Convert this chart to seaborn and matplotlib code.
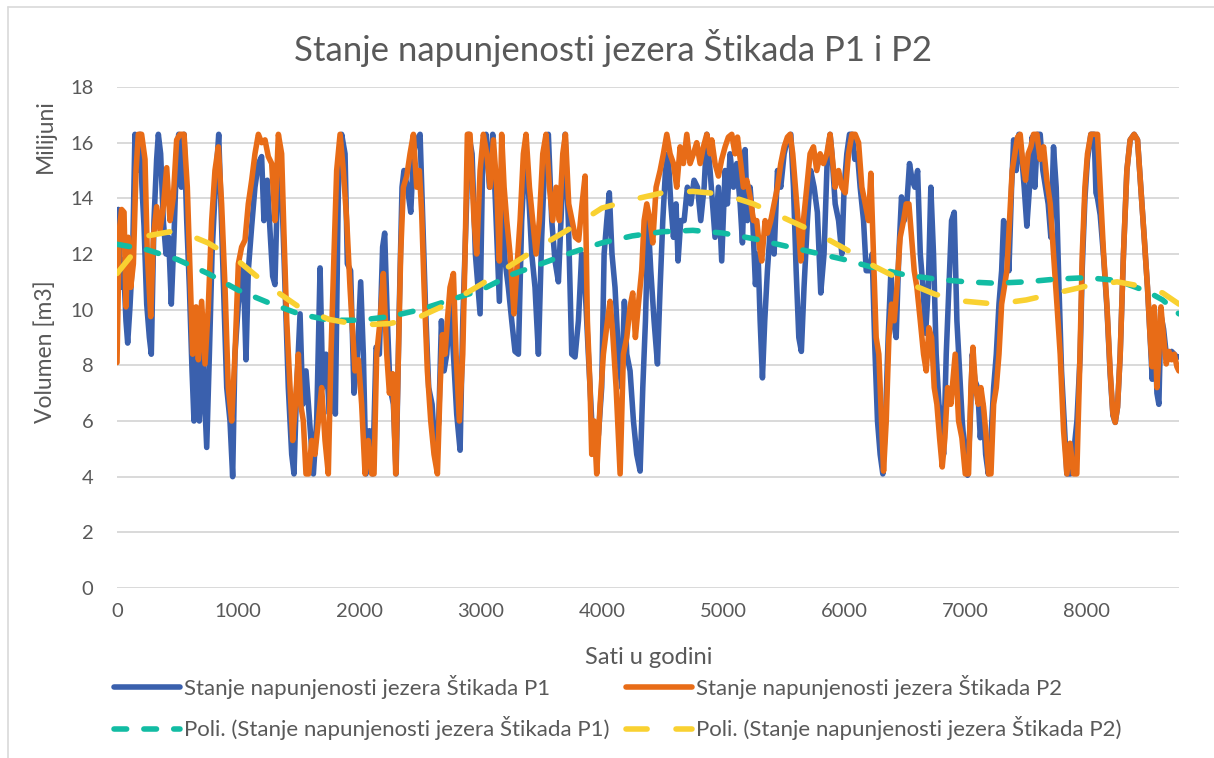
import matplotlib
matplotlib.use("Agg")
import matplotlib.pyplot as plt
import seaborn as sns
from matplotlib.lines import Line2D

# ---------------- data ----------------
h_p1 = [0, 11, 30, 52, 74, 88, 107, 129, 148, 168, 190, 206, 223, 245, 267, 283, 305, 327, 341, 360,
        382, 404, 426, 448, 470, 492, 509, 531, 553, 575, 597, 619, 635, 657, 679, 707, 740, 762, 784, 811,
        839, 861, 883, 905, 932, 954,
        973, 1001, 1042, 1064, 1083, 1111, 1138, 1166, 1193, 1212, 1240, 1262, 1284, 1303, 1331, 1358, 1386,
        1413, 1441, 1460, 1482, 1510, 1532, 1559, 1592, 1620, 1647, 1675, 1697, 1724, 1752, 1779, 1801, 1826,
        1853, 1881, 1900, 1927,
        1955, 1983, 2010, 2032, 2054, 2082, 2109, 2137, 2164, 2191, 2208, 2230, 2252, 2280, 2302, 2329, 2351,
        2367, 2395, 2423, 2445, 2472, 2500, 2522, 2544, 2571, 2599, 2626, 2654, 2676, 2698, 2720, 2747, 2775,
        2802, 2830, 2852, 2879, 2901, 2929, 2956,
        2967, 2995, 3017, 3044, 3072, 3099, 3127, 3154, 3176, 3201, 3228, 3256, 3283, 3311, 3338, 3366, 3393,
        3421, 3448, 3476, 3503, 3531, 3558, 3586, 3613, 3641, 3668, 3696, 3723, 3751, 3778, 3806, 3833, 3861,
        3888, 3916, 3943,
        3971, 3998, 4018, 4040, 4061, 4083, 4108, 4136, 4163, 4185, 4205, 4232, 4260, 4287, 4315, 4337, 4359,
        4381, 4403, 4430, 4458, 4480, 4502, 4524, 4546, 4568, 4590, 4611, 4628, 4650, 4678, 4705, 4733, 4760,
        4788, 4815, 4843, 4865, 4892,
        4933, 4961, 4988, 5016, 5035, 5057, 5085, 5112, 5140, 5159, 5181, 5200, 5222, 5244, 5266, 5288, 5305,
        5324, 5343, 5365, 5393, 5420, 5448, 5475, 5503, 5530, 5558, 5580, 5602, 5624, 5645, 5667, 5695, 5722,
        5750, 5777, 5805, 5832, 5860, 5882,
        5897, 5924, 5952, 5979, 5998, 6020, 6042, 6064, 6086, 6108, 6130, 6158, 6180, 6207, 6229, 6251, 6273,
        6295, 6317, 6339, 6361, 6383, 6405, 6427, 6449, 6471, 6493, 6515, 6537, 6559, 6581, 6604, 6626, 6648,
        6670, 6692, 6713, 6735, 6757, 6780, 6801, 6818, 6840, 6862, 6884,
        6906, 6928, 6950, 6972, 6994, 7016, 7038, 7055, 7077, 7099, 7121, 7143, 7165, 7187, 7209, 7231, 7253,
        7275, 7297, 7313, 7335, 7357, 7379, 7396, 7417, 7439, 7461, 7483, 7505, 7527, 7549, 7571, 7593, 7615,
        7637, 7659, 7681, 7703, 7725, 7747, 7770, 7791, 7813, 7835, 7863, 7890, 7918, 7945,
        7962, 7984, 8005, 8033, 8060, 8075, 8088, 8110, 8138, 8165, 8192, 8215, 8234, 8253, 8275, 8302, 8330,
        8357, 8390, 8418, 8445, 8473, 8500, 8522, 8539, 8556, 8578, 8594, 8611, 8633, 8655, 8677, 8699, 8721,
        8743, 8759]
v_p1 = [10.8, 13.6, 10.8, 11.8, 9.6, 8.8, 10.1, 12.0, 16.3, 15.0, 16.3, 14.4, 13.0, 10.2, 9.0, 8.4, 13.2, 15.4, 16.3, 15.6,
        13.2, 12.0, 12.6, 10.2, 12.6, 15.6, 16.3, 14.4, 16.3, 13.2, 10.8, 7.8, 6.0, 9.6, 6.0, 8.4, 5.05, 8.4, 12.0, 14.4,
        16.3, 13.2, 10.2, 7.2, 6.0, 4.0,
        8.4, 10.2, 11.5, 8.2, 11.4, 13.0, 14.4, 15.25, 15.5, 13.2, 14.65, 12.85, 11.2, 10.9, 15.6, 14.4, 10.8,
        7.2, 4.8, 4.1, 7.2, 9.85, 6.6, 7.8, 5.8, 4.1, 6.0, 11.5, 7.2, 8.4, 6.25, 9.6, 6.25, 14.4,
        16.3, 15.6, 11.65, 11.4,
        7.0, 8.4, 11.0, 8.4, 4.1, 5.65, 4.1, 8.65, 8.4, 12.25, 12.75, 9.6, 7.2, 6.6, 4.1, 10.2, 14.4,
        15.0, 14.4, 13.5, 15.6, 16.1, 16.3, 13.2, 10.2, 7.2, 6.6, 4.8, 6.0, 9.6, 7.8, 8.4, 10.3, 8.4,
        6.25, 4.95, 9.6, 13.2, 16.3, 15.6, 12.0,
        11.4, 9.85, 15.6, 16.3, 14.4, 16.3, 13.2, 10.3, 14.4, 11.75, 10.8, 9.6, 8.5, 8.4, 13.2, 15.6, 14.4,
        12.0, 10.8, 8.4, 12.6, 15.6, 16.3, 13.2, 11.75, 11.0, 13.8, 16.3, 13.2, 8.4, 8.3, 9.6, 12.0, 10.8,
        8.4, 6.0, 4.8,
        5.5, 7.2, 12.0, 13.2, 14.2, 12.0, 10.8, 8.4, 7.2, 10.3, 8.4, 7.8, 6.0, 4.8, 4.2, 7.2, 9.6,
        13.2, 11.4, 9.6, 8.05, 10.8, 13.2, 15.0, 15.6, 13.8, 12.6, 13.8, 11.75, 13.2, 13.2, 14.4, 13.8, 14.65,
        14.4, 13.2, 14.4, 16.3, 15.0,
        12.6, 14.4, 11.75, 15.0, 13.8, 15.6, 14.4, 15.25, 13.8, 12.4, 15.75, 13.2, 14.4, 13.2, 10.9, 12.0, 9.6,
        7.55, 9.6, 11.4, 13.2, 12.0, 15.0, 14.4, 15.6, 16.1, 16.3, 14.4, 11.4, 9.0, 8.5, 10.8, 13.2, 15.0,
        14.4, 13.5, 10.6, 12.0, 15.6, 16.3,
        15.6, 13.8, 13.2, 12.0, 14.4, 15.6, 16.3, 16.3, 15.4, 15.6, 14.4, 13.2, 11.4, 11.4, 12.0, 8.65, 6.0,
        4.8, 4.1, 6.0, 9.0, 11.3, 9.6, 9.0, 12.0, 14.05, 13.2, 13.8, 15.25, 14.65, 14.4, 15.0, 12.0, 10.8,
        9.15, 10.8, 14.4, 12.0, 8.4, 6.6, 6.0, 4.8, 8.4, 10.8, 13.2,
        13.5, 9.6, 7.8, 6.0, 4.8, 4.05, 6.0, 8.4, 7.45, 7.2, 5.4, 6.6, 4.8, 4.1, 5.4, 7.2, 8.4,
        10.2, 11.4, 13.2, 12.85, 11.4, 14.4, 16.1, 15.0, 16.3, 15.6, 14.4, 13.0, 14.4, 16.2, 14.4, 16.3, 16.3,
        15.0, 14.4, 13.8, 12.6, 15.85, 14.4, 10.8, 7.8, 6.0, 4.1, 4.1, 4.8, 6.0, 8.4,
        11.5, 14.0, 15.4, 16.3, 16.3, 14.2, 14.0, 13.4, 11.9, 10.1, 7.7, 6.2, 5.95, 6.5, 8.4, 12.0, 15.0,
        16.1, 16.3, 16.1, 14.4, 12.6, 10.8, 9.0, 7.5, 10.0, 7.0, 6.6, 9.8, 9.3, 8.4, 8.3, 8.5, 8.4,
        8.3, 8.3]

h_p2 = [0, 19, 38, 58, 74, 93, 113, 135, 157, 176, 203, 231, 250, 278, 300, 327, 355, 382, 410, 437,
        465, 492, 520, 553, 580, 602, 624, 652, 671, 698, 726, 753, 781, 808, 836, 863, 891, 918, 946,
        973, 1001, 1028, 1056, 1083, 1111, 1138, 1166, 1193, 1221, 1248, 1276, 1303, 1331, 1358, 1378, 1400,
        1427, 1449, 1471, 1496, 1515, 1537, 1559, 1581, 1606, 1633, 1661, 1688, 1716, 1743, 1765, 1790, 1812,
        1840, 1867, 1895, 1922,
        1963, 1991, 2018, 2046, 2073, 2101, 2120, 2142, 2170, 2197, 2225, 2247, 2274, 2299, 2321, 2340, 2362,
        2390, 2417, 2445, 2472, 2494, 2513, 2533, 2560, 2588, 2615, 2643, 2665, 2684, 2706, 2725, 2747, 2775,
        2797, 2824, 2852, 2871, 2890, 2912,
        2945, 2967, 2995, 3022, 3050, 3077, 3105, 3132, 3154, 3173, 3193, 3215, 3242, 3275, 3297, 3325, 3352,
        3374, 3402, 3429, 3457, 3484, 3512, 3539, 3567, 3594, 3622, 3649, 3677, 3699, 3726, 3754, 3781, 3808,
        3836, 3861, 3880, 3902,
        3916, 3935, 3957, 3985, 4012, 4040, 4067, 4089, 4117, 4150, 4177, 4205, 4232, 4254, 4276, 4301, 4328,
        4348, 4370, 4397, 4419, 4447, 4480, 4507, 4535, 4562, 4590, 4617, 4645, 4672, 4700, 4727, 4755, 4782,
        4810, 4837, 4865, 4892,
        4906, 4933, 4961, 4988, 5016, 5043, 5071, 5098, 5118, 5145, 5167, 5195, 5222, 5250, 5277, 5299, 5318,
        5346, 5365, 5393, 5420, 5448, 5475, 5503, 5530, 5552, 5574, 5596, 5618, 5640, 5662, 5690, 5717, 5745,
        5772, 5800, 5827, 5855, 5882,
        5924, 5952, 5979, 6007, 6034, 6062, 6089, 6117, 6144, 6172, 6199, 6218, 6240, 6262, 6284, 6306, 6323,
        6345, 6367, 6389, 6411, 6433, 6460, 6488, 6510, 6532, 6554, 6576, 6598, 6626, 6653, 6675, 6697, 6719,
        6741, 6763, 6785, 6807, 6829, 6851, 6878,
        6914, 6942, 6969, 6997, 7024, 7044, 7060, 7082, 7104, 7126, 7148, 7170, 7189, 7209, 7231, 7253, 7275,
        7297, 7319, 7340, 7362, 7384, 7406, 7428, 7450, 7472, 7494, 7516, 7538, 7560, 7588, 7615, 7643, 7670,
        7698, 7725, 7753,
        7780, 7808, 7835, 7862, 7890, 7917, 7940, 7962, 7984, 8005, 8033, 8060, 8088, 8110, 8138, 8165, 8192,
        8215, 8234, 8253, 8275, 8302, 8330, 8357, 8390, 8418, 8445, 8473, 8500, 8522, 8539, 8556, 8578, 8594,
        8611, 8633, 8655, 8677, 8699, 8721, 8743, 8759]
v_p2 = [8.1, 12.85, 13.6, 13.5, 10.1, 12.6, 10.8, 11.65, 15.0, 16.3, 16.3, 15.4, 12.0, 9.75, 12.6, 13.7, 12.85, 13.7, 15.1, 13.2,
        14.05, 16.1, 16.3, 16.3, 14.4, 11.4, 8.4, 10.1, 8.2, 10.3, 8.05, 10.1, 13.2, 15.0, 15.85, 13.8, 10.8, 7.2, 6.0,
        8.4, 11.65, 12.25, 12.5, 13.8, 14.65, 15.6, 16.3, 16.0, 16.1, 15.5, 15.25, 13.2, 16.3, 15.6, 12.6, 9.6,
        7.2, 5.3, 6.6, 8.4, 6.6, 6.0, 4.1, 4.1, 5.3, 4.8, 6.0, 7.2, 5.3, 4.1, 8.4, 12.0, 15.0,
        16.3, 15.0, 13.2, 10.8,
        7.8, 8.2, 6.6, 4.1, 5.3, 4.1, 4.1, 8.4, 9.6, 11.3, 8.4, 7.0, 7.7, 4.1, 8.4, 12.0, 14.4,
        14.8, 15.6, 16.3, 14.4, 15.0, 13.5, 10.8, 7.8, 6.0, 4.8, 4.1, 7.2, 9.1, 8.4, 9.6, 10.8, 11.3,
        8.4, 6.0, 8.4, 12.0, 16.3, 16.3,
        13.2, 12.0, 15.0, 16.3, 15.6, 14.4, 16.1, 14.4, 11.75, 16.3, 14.4, 13.2, 12.0, 9.85, 11.4, 13.2, 15.6,
        16.3, 14.4, 13.2, 12.0, 13.2, 15.6, 16.3, 14.4, 13.2, 14.4, 13.2, 15.6, 16.3, 13.8, 13.2, 12.6, 12.5,
        13.8, 14.8, 9.6, 7.2,
        4.8, 6.0, 4.1, 6.6, 8.4, 9.4, 10.3, 9.15, 7.2, 4.1, 8.4, 9.0, 10.1, 10.6, 9.0, 10.2, 11.4,
        13.2, 13.8, 13.2, 12.4, 14.4, 15.0, 15.6, 16.3, 15.6, 15.25, 14.4, 15.85, 15.25, 16.3, 15.25, 15.6, 16.0,
        15.25, 15.85, 16.3, 15.6,
        16.1, 15.25, 14.8, 15.4, 15.85, 16.2, 16.3, 15.6, 16.2, 15.25, 14.4, 14.65, 14.05, 13.2, 13.2, 12.25, 11.75,
        13.2, 12.75, 13.2, 13.8, 14.4, 15.25, 15.85, 16.2, 16.3, 15.6, 14.4, 13.2, 11.75, 13.2, 14.4, 15.6, 15.85,
        15.0, 15.6, 15.25, 15.6, 16.3,
        14.4, 15.0, 14.4, 14.2, 15.6, 16.3, 16.3, 16.0, 14.4, 13.8, 13.2, 14.9, 12.0, 9.0, 8.4, 6.0, 4.2,
        6.0, 9.0, 10.2, 9.6, 10.8, 12.6, 13.2, 13.8, 13.8, 12.6, 11.4, 10.8, 9.6, 8.4, 7.8, 9.35, 9.0,
        7.2, 6.6, 5.4, 4.35, 5.4, 7.2, 6.6,
        8.4, 6.0, 5.4, 4.1, 4.1, 7.2, 8.65, 7.2, 6.6, 7.2, 6.5, 5.4, 4.1, 4.1, 6.6, 7.2, 8.4,
        10.2, 10.8, 11.4, 13.2, 15.0, 15.6, 16.2, 16.3, 15.25, 14.65, 15.6, 15.85, 16.3, 16.3, 15.4, 15.85, 14.65,
        13.8, 12.0, 10.2,
        8.4, 5.65, 4.1, 5.2, 4.1, 4.1, 7.8, 12.0, 14.4, 15.6, 16.3, 16.3, 16.3, 14.4, 12.0, 10.2, 7.8,
        6.25, 5.95, 6.5, 8.4, 12.0, 15.0, 16.1, 16.3, 16.1, 14.4, 12.6, 10.8, 9.0, 7.95, 10.1, 7.2, 8.4,
        10.1, 9.0, 8.05, 8.5, 8.2, 8.4, 7.95, 7.8]

trend_hours = [0, 250, 500, 750, 1000, 1250, 1500, 1750, 2000, 2250, 2500, 2750, 3000, 3250, 3500,
               3750, 4000, 4250, 4500, 4750, 5000, 5250, 5500, 5750, 6000, 6250, 6500, 6750, 7000,
               7250, 7500, 7750, 8000, 8250, 8500, 8625, 8760]
trend_p1 = [12.35, 12.15, 11.8, 11.3, 10.7, 10.25, 9.85, 9.62, 9.62, 9.75, 10.0, 10.35, 10.7, 11.25, 11.65,
            12.05, 12.4, 12.65, 12.8, 12.85, 12.75, 12.55, 12.3, 12.05, 11.8, 11.5, 11.25, 11.1, 11.0,
            10.95, 11.0, 11.1, 11.15, 11.05, 10.65, 10.35, 9.85]
trend_p2 = [11.3, 12.65, 12.85, 12.4, 11.75, 10.85, 10.1, 9.65, 9.45, 9.5, 9.75, 10.25, 10.9, 11.6, 12.3,
            12.95, 13.65, 13.95, 14.2, 14.25, 14.15, 13.8, 13.3, 12.8, 12.2, 11.55, 11.0, 10.55, 10.3,
            10.2, 10.35, 10.6, 10.85, 11.0, 10.8, 10.6, 10.2]

x_ticks = [0, 1000, 2000, 3000, 4000, 5000, 6000, 7000, 8000]
y_ticks = [0, 2, 4, 6, 8, 10, 12, 14, 16, 18]

title = "Stanje napunjenosti jezera Štikada P1 i P2"
labels = ["Stanje napunjenosti jezera Štikada P1",
          "Stanje napunjenosti jezera Štikada P2",
          "Poli. (Stanje napunjenosti jezera Štikada P1)",
          "Poli. (Stanje napunjenosti jezera Štikada P2)"]

# ---------------- style ----------------
BLUE = "#3A60AD"
ORANGE = "#E86C17"
TEAL = "#12BCA3"
YELLOW = "#F9D131"
GREY = "#595959"
GRID = "#D9D9D9"

sns.set_theme(style="white")
plt.rcParams['font.family'] = ['Lato', 'DejaVu Sans']
plt.rcParams['lines.scale_dashes'] = False

W, H = 1214, 758
fig = plt.figure(figsize=(W / 100, H / 100), dpi=100)
ax = fig.add_axes([117 / W, 1 - 588 / H, (1179 - 117) / W, (588 - 87) / H])

LW = 4.0
TEAL_DASH = (9.1, 12.4)
YEL_DASH = (15.2, 20.8)
sns.lineplot(x=h_p1, y=v_p1, ax=ax, color=BLUE, linewidth=LW, estimator=None, sort=False,
             solid_joinstyle='round', solid_capstyle='round', zorder=2)
sns.lineplot(x=h_p2, y=v_p2, ax=ax, color=ORANGE, linewidth=LW, estimator=None, sort=False,
             solid_joinstyle='round', solid_capstyle='round', zorder=3)
sns.lineplot(x=trend_hours, y=trend_p1, ax=ax, color=TEAL, linewidth=LW, estimator=None, sort=False, zorder=4)
l_teal = ax.lines[-1]
l_teal.set_dashes(TEAL_DASH)
l_teal.set_dash_capstyle('round')
sns.lineplot(x=trend_hours, y=trend_p2, ax=ax, color=YELLOW, linewidth=LW, estimator=None, sort=False, zorder=5)
l_yel = ax.lines[-1]
l_yel.set_dashes(YEL_DASH)
l_yel.set_dash_capstyle('round')

ax.set_xlim(0, 8760)
ax.set_ylim(0, 18)
ax.set_xticks(x_ticks)
ax.set_yticks(y_ticks)
ax.set_xticklabels([str(t) for t in x_ticks])
ax.set_yticklabels([str(t) for t in y_ticks])
ax.grid(False)
ax.yaxis.grid(True, color=GRID, linewidth=1.4)
ax.set_axisbelow(True)
for s in ax.spines.values():
    s.set_visible(False)
ax.tick_params(axis='both', length=0, labelsize=14.5, labelcolor=GREY)
ax.tick_params(axis='y', pad=17)
ax.tick_params(axis='x', pad=11)
ax.set_xlabel("")
ax.set_ylabel("")

fig.text(613 / W, 1 - 48 / H, title, ha='center', va='center', fontsize=25, color=GREY)
fig.text(649 / W, 1 - 657 / H, "Sati u godini", ha='center', va='center', fontsize=17, color=GREY)
fig.text(45 / W, 1 - 352 / H, "Volumen [m3]", ha='center', va='center', rotation=90, fontsize=16.5, color=GREY)
fig.text(45 / W, 1 - 136 / H, "Milijuni", ha='center', va='center', rotation=90, fontsize=16.5, color=GREY)

# chart-area border
fig.add_artist(Line2D([8 / W, 1], [1 - 7 / H, 1 - 7 / H], transform=fig.transFigure, color=GRID, linewidth=1.2))
fig.add_artist(Line2D([8 / W, 8 / W], [0, 1 - 7 / H], transform=fig.transFigure, color=GRID, linewidth=1.2))

h_b = Line2D([], [], color=BLUE, linewidth=LW, solid_capstyle='round')
h_o = Line2D([], [], color=ORANGE, linewidth=LW, solid_capstyle='round')
h_t = Line2D([], [], color=TEAL, linewidth=LW, dashes=TEAL_DASH, dash_capstyle='round')
h_y = Line2D([], [], color=YELLOW, linewidth=LW, dashes=YEL_DASH, dash_capstyle='round')
fig.legend([h_b, h_t, h_o, h_y], [labels[0], labels[2], labels[1], labels[3]], ncol=2,
           loc='center left', bbox_to_anchor=(114 / W, 1 - 707.5 / H), frameon=False,
           fontsize=16, labelcolor=GREY, handlelength=2.95, handletextpad=0.2,
           columnspacing=0.75, labelspacing=0.8, borderpad=0, borderaxespad=0)

fig.savefig("out.png", dpi=100)
